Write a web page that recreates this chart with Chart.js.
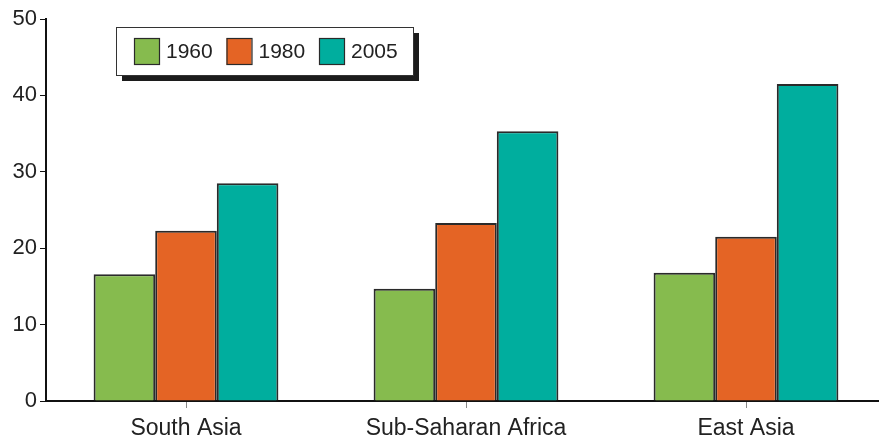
<!DOCTYPE html>
<html>
<head>
<meta charset="utf-8">
<style>
  html, body { margin: 0; padding: 0; background: #fff; overflow: hidden; }
  #wrap { width: 890px; height: 436px; }
</style>
<script src="https://cdn.jsdelivr.net/npm/chart.js@4/dist/chart.umd.min.js"></script>
</head>
<body>
<div id="wrap"><canvas id="myChart"></canvas></div>
<script>
const regions = ['South Asia', 'Sub-Saharan Africa', 'East Asia'];
const years = ['1960', '1980', '2005'];
const values1960 = [16.6, 14.7, 16.8];
const values1980 = [22.3, 23.3, 21.5];
const values2005 = [28.5, 35.3, 41.5];
const yTicks = [0, 10, 20, 30, 40, 50];

const colors = ['#86bb4e', '#e46425', '#00ae9e'];
const edge = '#2a2a2a';
const fontFamily = '"Liberation Sans", Arial, Helvetica, sans-serif';

// legend box with the drop shadow, drawn inside the plot
const boxLegend = {
    id: 'boxLegend',
    afterDraw(chart) {
        const ctx = chart.ctx;
        const x = 116, y = 27, w = 297, h = 48;
        ctx.save();
        ctx.fillStyle = '#1c1c1c';
        ctx.fillRect(x + 6, y + 6, w, h);
        ctx.fillStyle = '#fff';
        ctx.fillRect(x, y, w, h);
        ctx.strokeStyle = '#333';
        ctx.lineWidth = 1;
        ctx.strokeRect(x + 0.5, y + 0.5, w, h);

        ctx.font = '21px ' + fontFamily;
        ctx.textBaseline = 'middle';
        chart.data.datasets.forEach((ds, i) => {
            const sx = 134 + i * 92.5;
            ctx.fillStyle = ds.backgroundColor;
            ctx.fillRect(sx, 38, 25, 27);
            ctx.strokeStyle = edge;
            ctx.lineWidth = 1.2;
            ctx.strokeRect(sx + 0.5, 38.5, 25, 26);
            ctx.fillStyle = '#222';
            ctx.fillText(ds.label, sx + 32, 52);
        });
        ctx.restore();
    }
};

const seriesValues = [values1960, values1980, values2005];

const ctx = document.getElementById('myChart').getContext('2d');
const chart = new Chart(ctx, {
    type: 'bar',
    data: {
        labels: regions,
        datasets: years.map((yr, i) => ({
            label: yr,
            data: seriesValues[i],
            backgroundColor: colors[i],
            borderColor: edge,
            borderWidth: 2,
            categoryPercentage: 0.66,
            barPercentage: 1.0
        }))
    },
    options: {
        responsive: true,
        maintainAspectRatio: false,
        animation: false,
        layout: { padding: { top: 19, right: 4, left: 0, bottom: 0 } },
        plugins: {
            legend: { display: false },
            tooltip: { enabled: false }
        },
        scales: {
            x: {
                afterFit(scale) { scale.height = 35; },
                border: { color: '#111', width: 2 },
                grid: {
                    offset: false,
                    drawOnChartArea: false,
                    drawTicks: true,
                    tickLength: 7,
                    color: '#888'
                },
                ticks: {
                    color: '#222',
                    padding: 7,
                    font: { family: fontFamily, size: 23 }
                }
            },
            y: {
                min: 0,
                max: 50,
                afterFit(scale) { scale.width = 46; },
                afterBuildTicks(scale) { scale.ticks = yTicks.map(v => ({ value: v })); },
                border: { color: '#111', width: 2 },
                grid: {
                    drawOnChartArea: false,
                    drawTicks: true,
                    tickLength: 6,
                    color: '#111'
                },
                ticks: {
                    color: '#222',
                    padding: 3,
                    font: { family: fontFamily, size: 22 }
                }
            }
        }
    },
    plugins: [boxLegend]
});
</script>
</body>
</html>
